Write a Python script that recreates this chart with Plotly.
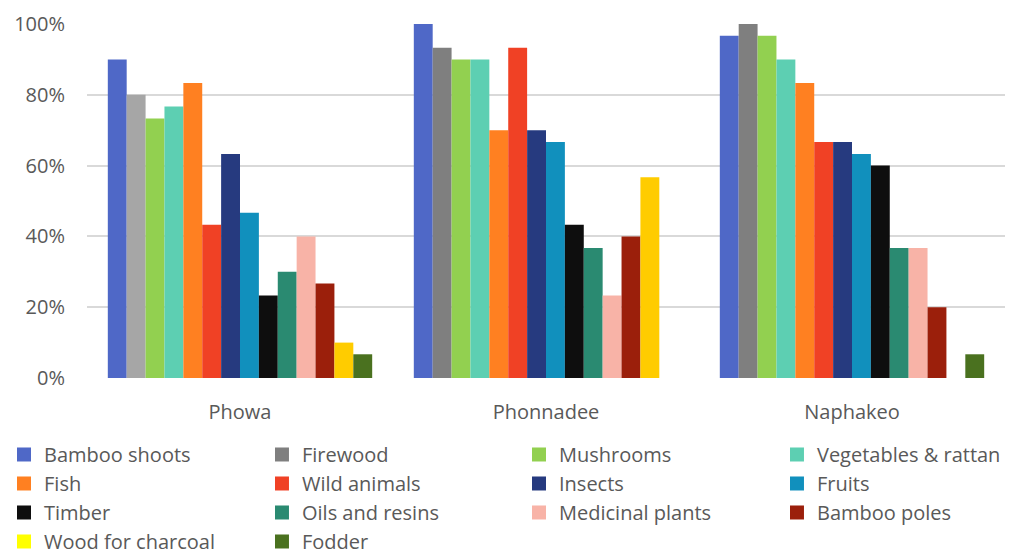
import plotly.graph_objects as go

villages = ["Phowa", "Phonnadee", "Naphakeo"]

bamboo_shoots = [0.900, 1.000, 0.967]
firewood = [0.800, 0.933, 1.000]
mushrooms = [0.733, 0.900, 0.967]
vegetables_rattan = [0.767, 0.900, 0.900]
fish = [0.833, 0.700, 0.833]
wild_animals = [0.433, 0.933, 0.667]
insects = [0.633, 0.700, 0.667]
fruits = [0.467, 0.667, 0.633]
timber = [0.233, 0.433, 0.600]
oils_resins = [0.300, 0.367, 0.367]
medicinal_plants = [0.400, 0.233, 0.367]
bamboo_poles = [0.267, 0.400, 0.200]
wood_charcoal = [0.100, 0.567, 0.0]
fodder = [0.067, 0.0, 0.067]

y_ticks = [0, 0.2, 0.4, 0.6, 0.8, 1.0]
y_tick_text = ["0%", "20%", "40%", "60%", "80%", "100%"]

# (name, values, bar colours per village, legend swatch colour)
series = [
    ("Bamboo shoots", bamboo_shoots, ["#4F68C7"] * 3, "#4F68C7"),
    ("Firewood", firewood, ["#A6A6A6", "#7F7F7F", "#7F7F7F"], "#7F7F7F"),
    ("Mushrooms", mushrooms, ["#92D050"] * 3, "#92D050"),
    ("Vegetables & rattan", vegetables_rattan, ["#5DCFB2"] * 3, "#5DCFB2"),
    ("Fish", fish, ["#FF8021"] * 3, "#FF8021"),
    ("Wild animals", wild_animals, ["#F04125"] * 3, "#F04125"),
    ("Insects", insects, ["#263A7F"] * 3, "#263A7F"),
    ("Fruits", fruits, ["#1190BD"] * 3, "#1190BD"),
    ("Timber", timber, ["#0E0E0E"] * 3, "#0E0E0E"),
    ("Oils and resins", oils_resins, ["#2A8A71"] * 3, "#2A8A71"),
    ("Medicinal plants", medicinal_plants, ["#F8B3A7"] * 3, "#F8B3A7"),
    ("Bamboo poles", bamboo_poles, ["#9B1F0B"] * 3, "#9B1F0B"),
    ("Wood for charcoal", wood_charcoal, ["#FFCC00"] * 3, "#FFFF00"),
    ("Fodder", fodder, ["#4A711F"] * 3, "#4A711F"),
]

FONT = "Open Sans, sans-serif"
TEXT = "#595959"
LEGEND_FONT = 20

fig = go.Figure()
for name, vals, bar_cols, _ in series:
    fig.add_trace(go.Bar(
        name=name, x=villages, y=vals,
        marker=dict(color=bar_cols, line=dict(width=0)),
        legendgroup=name, showlegend=False,
    ))

# legend laid out in four columns, filled row by row
legend_ids = ["legend", "legend2", "legend3", "legend4"]
for i, (name, _, _, swatch) in enumerate(series):
    fig.add_trace(go.Scatter(
        name=name, x=[None], y=[None], mode="markers",
        marker=dict(symbol="square", size=14, color=swatch),
        legendgroup=name, showlegend=True, hoverinfo="skip",
        legend=legend_ids[i % 4],
    ))

legend_x = [-0.0904, 0.1906, 0.4706, 0.7516]
legend_common = dict(
    orientation="v", xanchor="left", y=-0.161, yanchor="top",
    font=dict(family=FONT, size=LEGEND_FONT, color=TEXT),
    itemclick=False, itemdoubleclick=False,
    tracegroupgap=0, bgcolor="rgba(0,0,0,0)",
)

fig.update_layout(
    width=1012, height=557,
    margin=dict(l=87, r=7, t=24, b=179, autoexpand=False),
    paper_bgcolor="white", plot_bgcolor="white",
    barmode="group", bargap=0.136, bargroupgap=0,
    font=dict(family=FONT, color=TEXT, size=20),
    legend=dict(x=legend_x[0], **legend_common),
    legend2=dict(x=legend_x[1], **legend_common),
    legend3=dict(x=legend_x[2], **legend_common),
    legend4=dict(x=legend_x[3], **legend_common),
    xaxis=dict(
        showgrid=False, showline=False, zeroline=False,
        ticks="outside", ticklen=16, tickcolor="rgba(0,0,0,0)",
        tickfont=dict(family=FONT, size=20, color=TEXT),
    ),
    yaxis=dict(
        range=[0, 1], tickvals=y_ticks, ticktext=y_tick_text,
        showgrid=True, gridcolor="#D9D9D9", gridwidth=1.5,
        zeroline=False, showline=False,
        ticks="outside", ticklen=17, tickcolor="rgba(0,0,0,0)",
        tickfont=dict(family=FONT, size=20, color=TEXT),
    ),
)

fig.write_html("out.html")
